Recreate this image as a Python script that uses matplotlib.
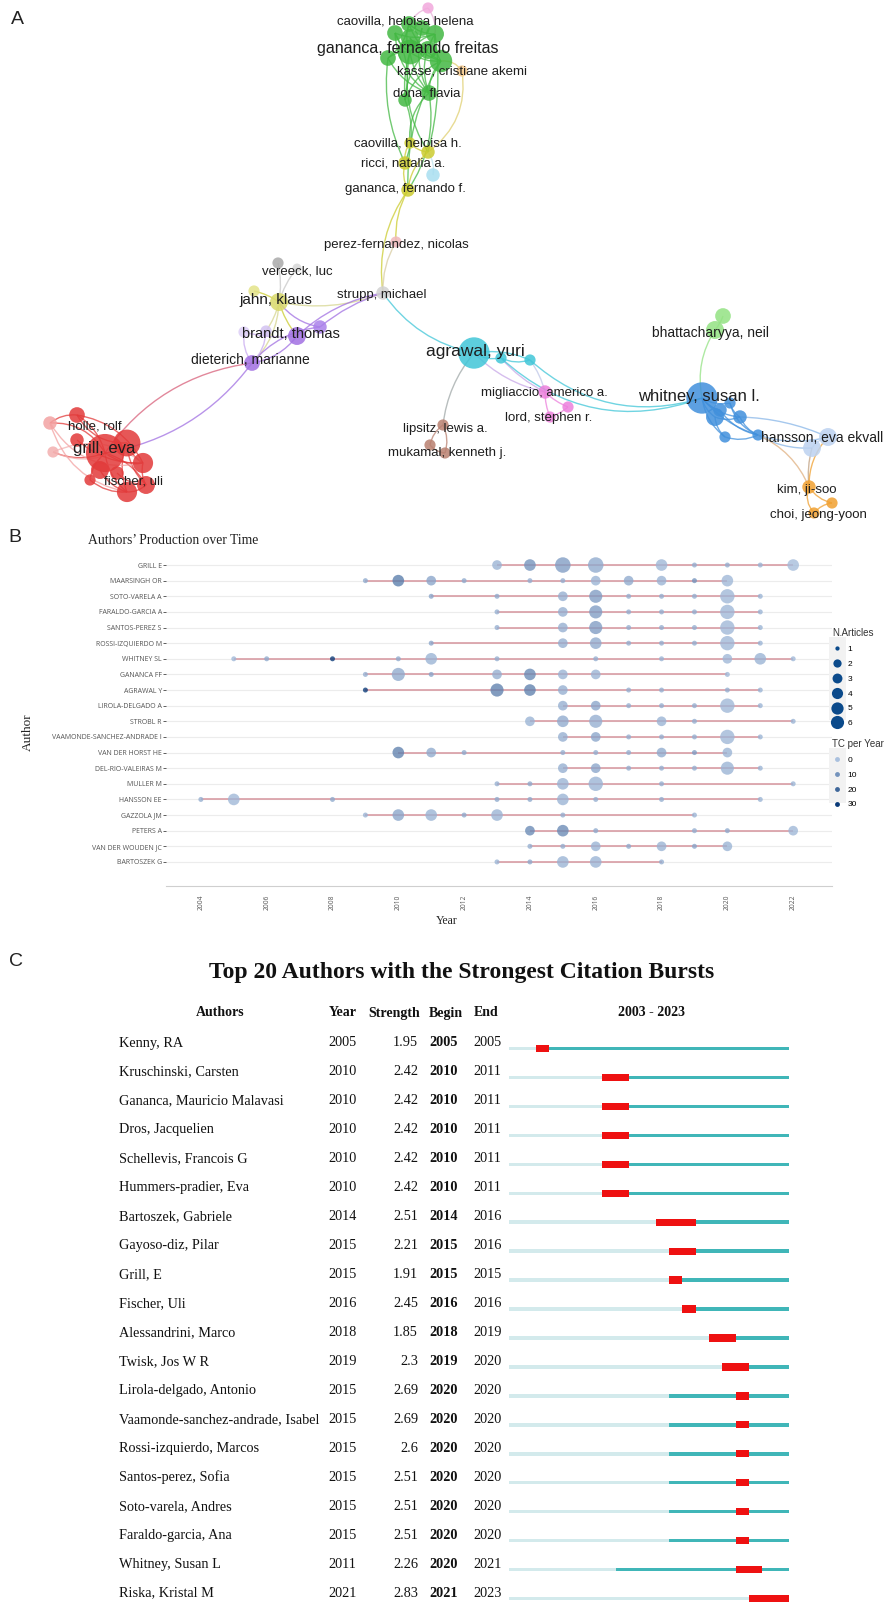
import numpy as np
import matplotlib
matplotlib.use('Agg')
import matplotlib.pyplot as plt
from matplotlib.patches import Circle, PathPatch, Rectangle
from matplotlib.path import Path
from matplotlib.lines import Line2D
from matplotlib.colors import LinearSegmentedColormap

W, H = 889, 1602
SANS = ['Liberation Sans', 'DejaVu Sans']
SERIF = ['Liberation Serif', 'DejaVu Serif']

# ---------------- Panel A: co-authorship network (VOSviewer layout) ----------------
node_keys = ['g_helena', 'g_a', 'g_b', 'g_c', 'g_d', 'g_freitas', 'g_e', 'g_f', 'g_g', 'g_h', 'g_dona',
             'p_top', 'kasse', 'y_caov', 'y_b', 'y_ricci', 'y_gff', 'lb', 'perez',
             'gr_a', 'vereeck', 'jahn', 'y_small', 'strupp',
             'brandt', 'pu_b', 'pu_c', 'pu_d', 'dieterich',
             'grill', 'r_b', 'r_c', 'r_d', 'fischer', 'holle', 'r_e', 'r_f', 'r_g', 'r_h', 'r_i', 'r_j',
             'agrawal', 'c_b', 'c_c', 'migliaccio', 'pk_b', 'lord', 'lipsitz', 'br_b', 'mukamal',
             'whitney', 'b_b', 'b_c', 'b_d', 'b_e', 'b_f', 'b_g', 'lg_a', 'bhatt',
             'hansson', 'lb_b', 'kim', 'o_b', 'choi']
node_x = [409, 395, 422, 435, 410, 410, 388, 428, 441, 405, 429,
          428, 462, 410, 428, 405, 408, 433, 396,
          278, 297, 279, 254, 383,
          297, 320, 266, 244, 252,
          105, 127, 143, 127, 146, 77, 50, 53, 90, 117, 77, 100,
          474, 501, 530, 545, 568, 550, 443, 430, 445,
          702, 715, 740, 725, 758, 720, 730, 723, 715,
          828, 812, 809, 832, 814]
node_y = [24, 33, 28, 34, 38, 52, 58, 50, 61, 100, 93,
          8, 71, 143, 152, 163, 190, 175, 242,
          263, 268, 302, 291, 293,
          336, 327, 331, 332, 363,
          453, 443, 463, 492, 485, 415, 423, 452, 480, 473, 440, 470,
          353, 358, 360, 392, 407, 417, 425, 445, 453,
          398, 417, 417, 437, 435, 410, 403, 316, 330,
          437, 448, 487, 503, 513]
node_r = [7, 7, 7, 8, 8, 11, 7, 8, 10, 6, 7,
          5, 5, 5, 6, 6, 6, 6, 5,
          5, 4, 8, 5, 6,
          8, 6, 5, 5, 7,
          17, 12, 9, 9, 8, 7, 6, 5, 5, 6, 6, 8,
          14, 5, 5, 6, 5, 5, 5, 5, 5,
          14, 8, 6, 5, 5, 6, 5, 7, 8,
          8, 8, 6, 5, 5]
GREEN, YEL, PUR, RED = '#43b843', '#cccc30', '#a170e2', '#e23a3a'
CYAN, PINK, BROWN, BLUE = '#40c6d8', '#ec80dc', '#b98070', '#4190dc'
node_col = [GREEN] * 11 + ['#f2a8dc', '#f6c98c', YEL, YEL, YEL, YEL, '#a8def0', '#f0b8bc',
            '#aaaaaa', '#d8d8d8', '#d9d96a', '#e3e388', '#d2d2d2',
            PUR, '#aa80ea', '#d3c2f2', '#dccef6', PUR,
            RED, RED, RED, RED, RED, RED, '#f3a2a2', '#f3b0b0', RED, RED, RED, RED,
            CYAN, CYAN, CYAN, PINK, PINK, PINK, BROWN, BROWN, BROWN,
            BLUE, BLUE, BLUE, BLUE, BLUE, BLUE, BLUE, '#93e283', '#93e283',
            '#bcd2f0', '#bcd2f0', '#f0a030', '#f0a030', '#f0a030']

edges = [
    # green cluster
    ('g_helena', 'g_freitas', 0.2), ('g_a', 'g_freitas', 0.2), ('g_b', 'g_freitas', -0.2), ('g_c', 'g_freitas', 0.2),
    ('g_d', 'g_f', 0.2), ('g_freitas', 'g_g', 0.2), ('g_freitas', 'g_e', 0.2), ('g_e', 'g_dona', 0.2),
    ('g_freitas', 'g_dona', 0.15), ('g_g', 'g_dona', 0.2), ('g_a', 'g_h', -0.2), ('g_freitas', 'g_h', 0.1),
    ('g_f', 'g_h', 0.2), ('g_g', 'g_h', 0.2), ('g_c', 'g_g', 0.2), ('g_helena', 'g_g', 0.2),
    ('g_b', 'g_dona', 0.2), ('g_a', 'g_c', 0.2), ('g_helena', 'g_e', -0.2), ('g_d', 'g_g', 0.2),
    ('g_a', 'g_dona', 0.25), ('g_c', 'g_dona', 0.25), ('g_helena', 'g_c', 0.2),
    ('p_top', 'g_helena', 0.2, '#e8b0d8'), ('p_top', 'g_c', -0.2, '#e8b0d8'),
    ('kasse', 'g_g', 0.3, '#e0cf70'), ('kasse', 'y_b', -0.3, '#e0cf70'),
    # green -> yellow
    ('g_dona', 'y_caov', 0.25), ('g_h', 'y_ricci', -0.2), ('g_freitas', 'y_b', 0.2), ('g_g', 'y_gff', 0.15),
    ('g_dona', 'y_gff', -0.2), ('g_e', 'y_ricci', 0.15), ('g_c', 'y_b', -0.1),
    ('lb', 'y_b', 0.2, '#bde3ee'), ('y_caov', 'y_ricci', 0.2), ('y_ricci', 'y_gff', 0.2),
    ('y_b', 'y_gff', 0.2), ('y_caov', 'y_b', 0.2),
    ('y_gff', 'perez', 0.15), ('y_gff', 'strupp', 0.2), ('perez', 'strupp', 0.15, '#d8cca2'),
    # vestibular europe
    ('strupp', 'jahn', -0.15, '#d6d690'), ('strupp', 'brandt', 0.15, PUR), ('strupp', 'pu_b', 0.1, PUR),
    ('strupp', 'agrawal', 0.2, CYAN), ('vereeck', 'jahn', 0.1, '#c8c8c8'), ('gr_a', 'jahn', -0.1, '#c8c8c8'),
    ('jahn', 'y_small', 0.1, YEL), ('jahn', 'brandt', 0.1, YEL), ('jahn', 'dieterich', -0.2, '#d6d690'),
    ('jahn', 'pu_c', -0.1, '#d6d690'), ('jahn', 'pu_b', 0.2, PUR), ('dieterich', 'brandt', 0.2, PUR),
    ('dieterich', 'pu_b', -0.2, PUR), ('dieterich', 'pu_c', 0.2, '#c8aaf0'), ('dieterich', 'pu_d', -0.2, '#c8aaf0'),
    ('pu_d', 'brandt', 0.1, '#c8aaf0'),
    ('grill', 'dieterich', -0.22, '#d8607a'), ('grill', 'dieterich', 0.2, PUR),
    # red cluster
    ('grill', 'r_b', 0.2), ('grill', 'r_c', 0.2), ('grill', 'r_d', 0.2), ('grill', 'fischer', -0.2),
    ('grill', 'holle', 0.2), ('grill', 'r_e', 0.3), ('grill', 'r_f', -0.2), ('grill', 'r_g', 0.2),
    ('r_b', 'r_c', 0.2), ('r_b', 'r_d', 0.2), ('r_b', 'fischer', 0.2), ('r_b', 'holle', -0.3),
    ('r_c', 'fischer', 0.2), ('r_d', 'fischer', 0.2), ('holle', 'r_e', 0.2), ('r_e', 'r_c', 0.35),
    ('r_f', 'r_c', -0.3), ('r_e', 'r_d', 0.3), ('r_f', 'r_b', 0.3), ('holle', 'r_c', -0.25),
    ('r_i', 'r_c', 0.2), ('r_j', 'r_d', 0.2), ('r_h', 'fischer', 0.2), ('r_g', 'r_d', 0.2),
    # cyan / pink / brown
    ('agrawal', 'c_b', 0.2), ('c_b', 'c_c', 0.2), ('agrawal', 'c_c', -0.15),
    ('agrawal', 'migliaccio', 0.15, '#c8a8e8'), ('c_b', 'migliaccio', 0.1, '#c8a8e8'), ('c_c', 'migliaccio', -0.1, '#c0c8e8'),
    ('migliaccio', 'pk_b', 0.1), ('migliaccio', 'lord', 0.1), ('lord', 'pk_b', 0.1),
    ('agrawal', 'lipsitz', 0.15, '#a0a8a8'), ('lipsitz', 'br_b', 0.2), ('br_b', 'mukamal', 0.2),
    ('lipsitz', 'mukamal', -0.2),
    ('c_c', 'whitney', 0.28, CYAN), ('c_b', 'whitney', 0.3, CYAN),
    # blue / green / light blue / orange
    ('whitney', 'bhatt', -0.2, '#93e283'), ('bhatt', 'lg_a', 0.1),
    ('whitney', 'b_b', 0.2), ('whitney', 'b_c', 0.2), ('whitney', 'b_d', 0.2), ('whitney', 'b_e', 0.15),
    ('whitney', 'b_f', 0.2), ('whitney', 'b_g', 0.2), ('b_b', 'b_c', 0.2), ('b_c', 'b_e', 0.2),
    ('b_b', 'b_d', 0.2), ('b_d', 'b_e', 0.2), ('b_f', 'b_e', 0.2), ('b_g', 'b_e', 0.25), ('b_g', 'b_c', 0.2),
    ('b_e', 'hansson', 0.15, '#88b6e8'), ('b_e', 'lb_b', 0.15, '#88b6e8'), ('hansson', 'lb_b', 0.2),
    ('b_c', 'hansson', -0.1, '#88b6e8'),
    ('lb_b', 'kim', 0.1, '#c0a080'), ('hansson', 'kim', 0.2, '#f0a030'), ('b_e', 'kim', -0.2, '#e0b080'),
    ('kim', 'o_b', 0.2), ('o_b', 'choi', 0.2), ('kim', 'choi', 0.3),
]

labels_a = [
    ('caovilla, heloisa helena', 405, 21, 9.5), ('gananca, fernando freitas', 408, 49, 11.5),
    ('kasse, cristiane akemi', 462, 71, 9.5), ('dona, flavia', 427, 93, 9.5),
    ('caovilla, heloisa h.', 408, 144, 9.5), ('ricci, natalia a.', 403, 163, 9.5),
    ('gananca, fernando f.', 405, 189, 9.5), ('perez-fernandez, nicolas', 396, 245, 9.5),
    ('vereeck, luc', 297, 271, 9.5), ('jahn, klaus', 276, 300, 11),
    ('strupp, michael', 382, 295, 9.5), ('brandt, thomas', 291, 334, 10.5),
    ('dieterich, marianne', 250, 360, 10), ('agrawal, yuri', 475, 352, 12.5),
    ('bhattacharyya, neil', 710, 333, 10), ('whitney, susan l.', 699, 397, 12),
    ('migliaccio, americo a.', 544, 393, 9.5), ('lord, stephen r.', 549, 418, 9.5),
    ('lipsitz, lewis a.', 445, 429, 9.5), ('mukamal, kenneth j.', 447, 453, 9.5),
    ('hansson, eva ekvall', 822, 438, 10), ('holle, rolf', 95, 427, 9.5),
    ('grill, eva', 104, 449, 12), ('fischer, uli', 134, 482, 9.5),
    ('kim, ji-soo', 807, 490, 9.5), ('choi, jeong-yoon', 818, 515, 9.5),
]

# ---------------- Panel B: authors' production over time ----------------
prod_authors = ['GRILL E', 'MAARSINGH OR', 'SOTO-VARELA A', 'FARALDO-GARCIA A', 'SANTOS-PEREZ S',
                'ROSSI-IZQUIERDO M', 'WHITNEY SL', 'GANANCA FF', 'AGRAWAL Y', 'LIROLA-DELGADO A',
                'STROBL R', 'VAAMONDE-SANCHEZ-ANDRADE I', 'VAN DER HORST HE', 'DEL-RIO-VALEIRAS M',
                'MULLER M', 'HANSSON EE', 'GAZZOLA JM', 'PETERS A', 'VAN DER WOUDEN JC', 'BARTOSZEK G']
prod_years = [
    [2013, 2014, 2015, 2016, 2018, 2019, 2020, 2021, 2022],
    [2009, 2010, 2011, 2012, 2014, 2015, 2016, 2017, 2018, 2019, 2020],
    [2011, 2013, 2015, 2016, 2017, 2018, 2019, 2020, 2021],
    [2013, 2015, 2016, 2017, 2018, 2019, 2020, 2021],
    [2013, 2015, 2016, 2017, 2018, 2019, 2020, 2021],
    [2011, 2015, 2016, 2017, 2018, 2019, 2020, 2021],
    [2005, 2006, 2008, 2010, 2011, 2013, 2016, 2018, 2020, 2021, 2022],
    [2009, 2010, 2011, 2013, 2014, 2015, 2016, 2020],
    [2009, 2013, 2014, 2015, 2017, 2018, 2020, 2021],
    [2015, 2016, 2017, 2018, 2019, 2020, 2021],
    [2014, 2015, 2016, 2018, 2019, 2022],
    [2015, 2016, 2017, 2018, 2019, 2020, 2021],
    [2010, 2011, 2012, 2015, 2016, 2017, 2018, 2019, 2020],
    [2015, 2016, 2017, 2018, 2019, 2020, 2021],
    [2013, 2014, 2015, 2016, 2018, 2022],
    [2004, 2005, 2008, 2013, 2014, 2015, 2016, 2018, 2021],
    [2009, 2010, 2011, 2012, 2013, 2015, 2019],
    [2014, 2015, 2016, 2019, 2020, 2022],
    [2014, 2015, 2016, 2017, 2018, 2019, 2020],
    [2013, 2014, 2015, 2016, 2018],
]
prod_articles = [
    [2, 3, 6, 6, 3, 1, 1, 1, 3],
    [1, 3, 2, 1, 1, 1, 2, 2, 2, 1, 3],
    [1, 1, 2, 4, 1, 1, 1, 5, 1],
    [1, 2, 4, 1, 1, 1, 5, 1],
    [1, 2, 4, 1, 1, 1, 5, 1],
    [1, 2, 3, 1, 1, 1, 5, 1],
    [1, 1, 1, 1, 3, 1, 1, 1, 2, 3, 1],
    [1, 4, 1, 2, 3, 2, 2, 1],
    [1, 4, 3, 2, 1, 1, 1, 1],
    [2, 2, 1, 1, 1, 5, 1],
    [2, 3, 4, 2, 1, 1],
    [2, 2, 1, 1, 1, 5, 1],
    [3, 2, 1, 1, 1, 1, 2, 1, 2],
    [2, 2, 1, 1, 1, 4, 1],
    [1, 1, 3, 5, 1, 1],
    [1, 3, 1, 1, 1, 3, 1, 1, 1],
    [1, 3, 3, 1, 3, 1, 1],
    [2, 3, 1, 1, 1, 2],
    [1, 1, 2, 1, 2, 1, 2],
    [1, 1, 3, 3, 1],
]
prod_tc = [
    [3, 10, 8, 5, 2, 4, 4, 3, 1],
    [5, 15, 6, 5, 4, 4, 3, 5, 3, 10, 2],
    [6, 5, 4, 8, 4, 4, 4, 2, 3],
    [4, 4, 8, 4, 4, 4, 2, 3],
    [4, 4, 8, 4, 4, 4, 2, 3],
    [6, 4, 5, 4, 4, 4, 2, 3],
    [2, 5, 30, 5, 3, 4, 4, 3, 2, 3, 2],
    [4, 5, 6, 4, 12, 3, 3, 2],
    [30, 14, 14, 4, 4, 4, 4, 3],
    [4, 6, 4, 4, 4, 2, 3],
    [3, 5, 4, 3, 4, 3],
    [4, 6, 4, 4, 4, 2, 3],
    [14, 5, 5, 4, 4, 4, 5, 8, 3],
    [4, 6, 4, 4, 4, 3, 3],
    [4, 5, 3, 3, 4, 3],
    [4, 2, 5, 5, 5, 3, 4, 4, 3],
    [3, 6, 3, 5, 3, 4, 3],
    [12, 12, 5, 4, 5, 2],
    [4, 4, 3, 5, 3, 6, 3],
    [3, 5, 3, 3, 4],
]
legend_articles = [1, 2, 3, 4, 5, 6]
legend_tc = [0, 10, 20, 30]

# ---------------- Panel C: citation bursts ----------------
burst_authors = ['Kenny, RA', 'Kruschinski, Carsten', 'Gananca, Mauricio Malavasi', 'Dros, Jacquelien',
                 'Schellevis, Francois G', 'Hummers-pradier, Eva', 'Bartoszek, Gabriele', 'Gayoso-diz, Pilar',
                 'Grill, E', 'Fischer, Uli', 'Alessandrini, Marco', 'Twisk, Jos W R', 'Lirola-delgado, Antonio',
                 'Vaamonde-sanchez-andrade, Isabel', 'Rossi-izquierdo, Marcos', 'Santos-perez, Sofia',
                 'Soto-varela, Andres', 'Faraldo-garcia, Ana', 'Whitney, Susan L', 'Riska, Kristal M']
burst_year = [2005, 2010, 2010, 2010, 2010, 2010, 2014, 2015, 2015, 2016, 2018, 2019,
              2015, 2015, 2015, 2015, 2015, 2015, 2011, 2021]
burst_strength = [1.95, 2.42, 2.42, 2.42, 2.42, 2.42, 2.51, 2.21, 1.91, 2.45, 1.85, 2.3,
                  2.69, 2.69, 2.6, 2.51, 2.51, 2.51, 2.26, 2.83]
burst_begin = [2005, 2010, 2010, 2010, 2010, 2010, 2014, 2015, 2015, 2016, 2018, 2019,
               2020, 2020, 2020, 2020, 2020, 2020, 2020, 2021]
burst_end = [2005, 2011, 2011, 2011, 2011, 2011, 2016, 2016, 2015, 2016, 2019, 2020,
             2020, 2020, 2020, 2020, 2020, 2020, 2021, 2023]
span_start, span_end = 2003, 2023

# =====================================================================
fig = plt.figure(figsize=(W / 100, H / 100), dpi=100)
fig.patch.set_facecolor('white')


def px_axes(x0, y0, x1, y1):
    a = fig.add_axes([x0 / W, 1 - y1 / H, (x1 - x0) / W, (y1 - y0) / H])
    a.axis('off')
    return a


# ---- A ----
axA = px_axes(0, 0, W, 530)
axA.set_xlim(0, W)
axA.set_ylim(530, 0)
idx = {k: i for i, k in enumerate(node_keys)}
for e in edges:
    a, b, bend = idx[e[0]], idx[e[1]], e[2]
    col = e[3] if len(e) > 3 else node_col[a]
    p0 = np.array([node_x[a], node_y[a]], float)
    p1 = np.array([node_x[b], node_y[b]], float)
    d = p1 - p0
    n = np.array([-d[1], d[0]])
    ctrl = (p0 + p1) / 2 + bend * n
    path = Path([p0, ctrl, p1], [Path.MOVETO, Path.CURVE3, Path.CURVE3])
    axA.add_patch(PathPatch(path, fc='none', ec=col, lw=1.0, alpha=0.75, zorder=1))
for i in range(len(node_keys)):
    axA.add_patch(Circle((node_x[i], node_y[i]), node_r[i] * 1.12, fc=node_col[i], ec='none',
                         alpha=0.85, zorder=2))
for txt, x, y, fs in labels_a:
    axA.text(x, y, txt, ha='center', va='center', fontsize=fs, family=SANS, color='#1e1e1e', zorder=3)

# ---- B ----
cmap = LinearSegmentedColormap.from_list('tc', ['#a9c0de', '#0a3a78'])


def dot_area(n, scale=1.0):
    d = (5 + 10.5 * np.sqrt((n - 1) / 5.0)) * scale
    return (d * 0.72) ** 2


axB = fig.add_axes([166 / W, 1 - 886 / H, 666 / W, 338 / H])
axB.set_xlim(2002.94, 2023.18)
axB.set_ylim(20.54, -1.09)
for i in range(len(prod_authors)):
    axB.axhline(i, color='#ececec', lw=0.8, zorder=0)
    yrs = prod_years[i]
    axB.plot([min(yrs), max(yrs)], [i, i], color='#d89aa2', lw=1.3, alpha=0.9, zorder=1,
             solid_capstyle='butt')
    axB.scatter(yrs, [i] * len(yrs), s=[dot_area(n) for n in prod_articles[i]], c=prod_tc[i],
                cmap=cmap, vmin=0, vmax=30, alpha=0.78, linewidths=0, zorder=2)
axB.set_yticks(range(len(prod_authors)))
axB.set_yticklabels(prod_authors, fontsize=5, color='#555555', family=['Open Sans', 'DejaVu Sans'])
axB.set_xticks(range(2004, 2023, 2))
axB.set_xticklabels([str(y) for y in range(2004, 2023, 2)], rotation=90, fontsize=4.8,
                    color='#555555', family=['Open Sans', 'DejaVu Sans'])
axB.tick_params(axis='y', length=2, width=0.6, color='#444444', pad=1)
axB.tick_params(axis='x', length=0, pad=6)
for s in ['left', 'top', 'right']:
    axB.spines[s].set_visible(False)
axB.spines['bottom'].set_color('#cfcfcf')
axB.spines['bottom'].set_linewidth(0.8)
axB.set_facecolor('white')

fig.text(88 / W, 1 - 541 / H, 'Authors\u2019 Production over Time', family=SERIF, fontsize=9.8,
         va='center', ha='left', color='#222222')
fig.text(28 / W, 1 - 732 / H, 'Author', family=SERIF, fontsize=9.5, rotation=90,
         va='center', ha='center', color='#222222')
fig.text(447 / W, 1 - 921 / H, 'Year', family=SERIF, fontsize=8.5, va='center', ha='center',
         color='#222222')

# legend key backgrounds
fig.patches.append(Rectangle((829 / W, 1 - 720 / H), 17 / W, 83 / H, transform=fig.transFigure,
                             fc='#f2f2f2', ec='none', zorder=0))
fig.patches.append(Rectangle((829 / W, 1 - 803 / H), 17 / W, 55 / H, transform=fig.transFigure,
                             fc='#f2f2f2', ec='none', zorder=0))
h1 = [Line2D([], [], ls='', marker='o', color='#0b4a8b', mec='none',
             markersize=np.sqrt(dot_area(n, 0.85))) for n in legend_articles]
leg1 = fig.legend(h1, [str(n) for n in legend_articles], title='N.Articles', loc='upper left',
                  bbox_to_anchor=(826 / W, 1 - 622 / H), frameon=False,
                  title_fontsize=7, labelspacing=0.85, handlelength=1.3, handletextpad=0.6,
                  alignment='left', borderpad=0.2, prop={'family': SANS, 'size': 6})
leg1.get_title().set_family(SANS)
leg1.get_title().set_color('#333333')
h2 = [Line2D([], [], ls='', marker='o', color=cmap(v / 30), mec='none', markersize=3.5)
      for v in legend_tc]
leg2 = fig.legend(h2, [str(v) for v in legend_tc], title='TC per Year', loc='upper left',
                  bbox_to_anchor=(826 / W, 1 - 733 / H), frameon=False,
                  title_fontsize=7, labelspacing=0.85, handlelength=1.3, handletextpad=0.6,
                  alignment='left', borderpad=0.2, prop={'family': SANS, 'size': 6})
leg2.get_title().set_family(SANS)
leg2.get_title().set_color('#333333')

# ---- C ----
row_px0, row_dy = 1048.5, 28.95
top_i = (990 - row_px0) / row_dy
bot_i = (H - row_px0) / row_dy
axCt = px_axes(0, 990, W, H)
axCt.set_xlim(0, W)
axCt.set_ylim(bot_i, top_i)
axCb = px_axes(509, 990, 789, H)
axCb.set_xlim(span_start, span_end + 1)
axCb.set_ylim(bot_i, top_i)

hdr_y = (1013 - row_px0) / row_dy
hdr = dict(family=SERIF, fontsize=10, fontweight='bold', va='center', color='#111111')
axCt.text(220, hdr_y, 'Authors', ha='center', **hdr)
axCt.text(343, hdr_y, 'Year', ha='center', **hdr)
axCt.text(394, hdr_y, 'Strength', ha='center', **hdr)
axCt.text(446, hdr_y, 'Begin', ha='center', **hdr)
axCt.text(486, hdr_y, 'End', ha='center', **hdr)
axCt.text(651, hdr_y, '%d - %d' % (span_start, span_end), ha='center', **hdr)

txt = dict(family=SERIF, fontsize=10.3, va='center', color='#111111')
off = -5.5 / row_dy
for i in range(len(burst_authors)):
    y = i + off
    axCt.text(119, y, burst_authors[i], ha='left', **txt)
    axCt.text(328, y, str(burst_year[i]), ha='left', **txt)
    axCt.text(418, y, '%g' % burst_strength[i], ha='right', **txt)
    axCt.text(429, y, str(burst_begin[i]), ha='left', fontweight='bold', **txt)
    axCt.text(473, y, str(burst_end[i]), ha='left', **txt)
    axCb.barh(i, burst_year[i] - span_start, left=span_start, height=0.12, color='#d3eaec', lw=0)
    axCb.barh(i, span_end + 1 - burst_year[i], left=burst_year[i], height=0.12, color='#40b6b8', lw=0)
    axCb.barh(i, burst_end[i] + 1 - burst_begin[i], left=burst_begin[i], height=0.25,
              color='#ee1111', lw=0)

fig.text(462 / W, 1 - 972 / H, 'Top 20 Authors with the Strongest Citation Bursts', family=SERIF,
         fontsize=17, fontweight='bold', ha='center', va='center', color='#111111')

# panel letters
for letter, x, y in [('A', 17, 19), ('B', 15, 537), ('C', 16, 962)]:
    fig.text(x / W, 1 - y / H, letter, family=SANS, fontsize=14, ha='center', va='center',
             color='#222222')

fig.savefig('out.png', dpi=100, facecolor='white')
